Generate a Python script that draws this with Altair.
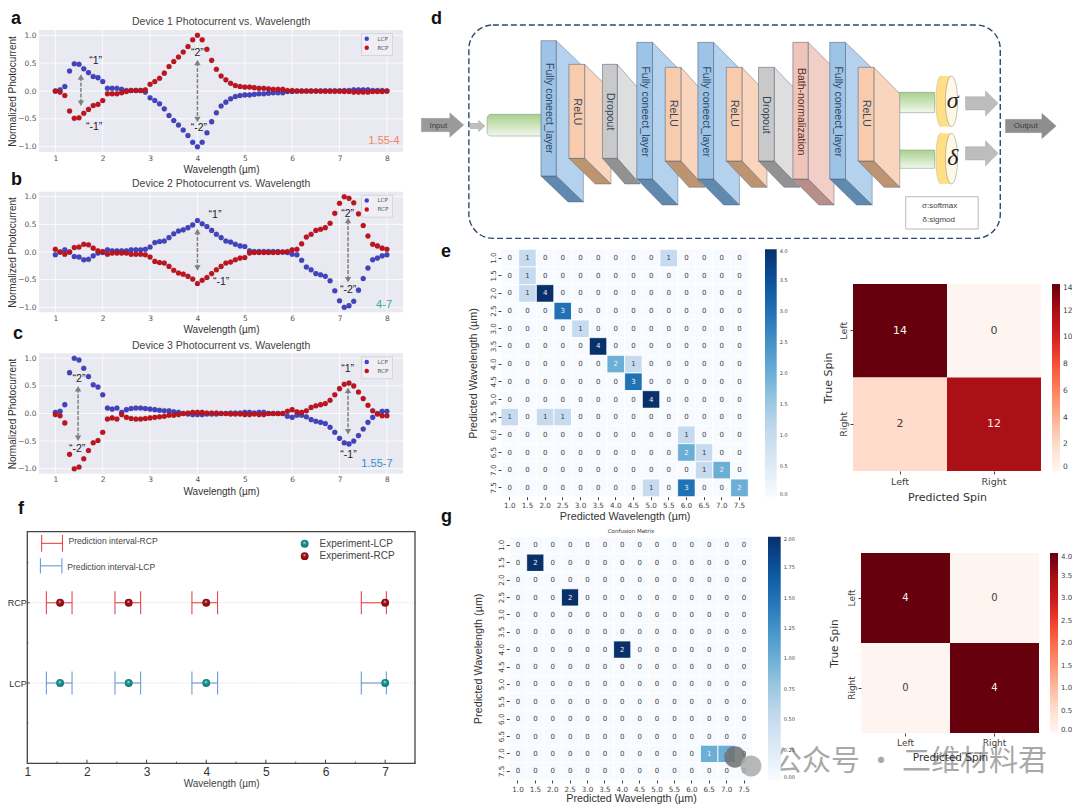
import altair as alt
import pandas as pd

W, H = 1064, 796
SANS = "Liberation Sans"
DJ = "DejaVu Sans"

def P(v):
    return v - 8

wavelengths = [round(1 + i * 0.1, 1) for i in range(71)]

a_lcp = [0.0, .02, .08, .36, .49, .48, .40, .33, .26, .24,
         .17, .05, .05, .05, .03, .01, .01, .01, .01, -.02,
         -.12, -.17, -.23, -.32, -.44, -.53, -.61, -.70, -.80, -.92,
         -1.0, -.92, -.75, -.55, -.39, -.27, -.20, -.14, -.10, -.08,
         -.07, -.07, -.06, -.05, -.05, -.04, -.03, -.03, -.03, -.01,
         -.01, 0, 0, 0, 0, 0, 0, .005, .005, .005,
         .005, .01, .01, .02, .02, .02, .02, .01, .01, .01, 0]
a_rcp = [0.0, -.02, -.08, -.36, -.49, -.48, -.40, -.33, -.26, -.24,
         -.17, -.05, -.05, -.05, -.03, -.01, .01, .01, .01, .02,
         .12, .17, .23, .32, .44, .53, .61, .70, .80, .92,
         1.0, .92, .75, .55, .39, .27, .20, .14, .10, .08,
         .07, .07, .06, .05, .05, .04, .03, .03, .03, .01,
         .01, 0, 0, 0, 0, 0, 0, -.005, -.005, -.005,
         -.005, -.01, -.01, -.02, -.02, -.02, -.02, -.01, -.01, -.01, 0]
b_lcp = [-.05, 0, .04, 0, -.08, -.09, -.14, -.13, -.07, -.02,
         -.01, .04, .02, .02, .02, .02, .04, .04, .04, .05,
         .09, .17, .19, .20, .26, .33, .38, .40, .44, .49,
         .57, .51, .46, .39, .32, .26, .20, .18, .14, .11,
         .10, .02, .01, .01, .01, .01, .01, .01, 0, -.01,
         -.04, -.05, -.15, -.27, -.32, -.39, -.41, -.44, -.52, -.70,
         -.88, -1.0, -.97, -.89, -.69, -.48, -.29, -.14, -.11, -.07, -.05]
b_rcp = [.05, 0, -.04, 0, .08, .09, .14, .13, .07, .02,
         .01, -.04, -.02, -.02, -.02, -.02, -.04, -.04, -.04, -.05,
         -.09, -.17, -.19, -.20, -.26, -.33, -.38, -.40, -.44, -.49,
         -.57, -.51, -.46, -.39, -.32, -.26, -.20, -.18, -.14, -.11,
         -.10, -.02, -.01, -.01, -.01, -.01, -.01, -.01, 0, .01,
         .04, .05, .15, .27, .32, .39, .41, .44, .52, .70,
         .88, 1.0, .97, .89, .69, .48, .29, .14, .11, .07, .05]
c_lcp = [.02, .04, .16, .74, 1.0, .97, .82, .67, .52, .48,
         .34, .10, .08, .10, .02, .07, .09, .10, .10, .09,
         .08, .07, .06, .05, .05, .03, .02, 0, -.01, -.02,
         -.02, -.02, -.01, -.01, -.01, 0, 0, .01, .01, .01,
         .02, .02, .01, .02, .02, 0, 0, 0, 0, -.05,
         -.07, -.03, -.03, -.06, -.11, -.14, -.16, -.18, -.25, -.34,
         -.45, -.53, -.55, -.50, -.40, -.28, -.16, -.07, 0, .04, .04]
c_rcp = [-.02, -.04, -.17, -.74, -1.0, -.97, -.82, -.67, -.53, -.49,
         -.34, -.10, -.08, -.10, -.02, -.07, -.09, -.10, -.10, -.09,
         -.08, -.07, -.06, -.05, -.03, -.03, -.02, 0, .01, .02,
         .02, .02, .01, .01, .01, 0, 0, -.01, -.01, -.01,
         -.02, -.02, -.01, -.02, -.02, 0, 0, 0, 0, .04,
         .07, .03, .02, .05, .11, .14, .16, .18, .24, .34,
         .45, .53, .55, .50, .39, .27, .15, .05, -.01, -.04, -.04]

ann_a = [("“1”", 1.85, .54), ("“-1”", 1.82, -.64), ("“2”", 4.0, .68), ("“-2”", 4.03, -.67)]
ann_b = [("“1”", 4.37, .66), ("“-1”", 4.5, -.55), ("“2”", 7.17, .69), ("“-2”", 7.18, -.68)]
ann_c = [("“2”", 1.5, .63), ("“-2”", 1.46, -.64), ("“1”", 7.17, .81), ("“-1”", 7.19, -.75)]
arr_a = [(1.54, .25, -.22), (4.0, .51, -.51)]
arr_b = [(4.0, .37, -.29), (7.18, .57, -.5)]
arr_c = [(1.48, .45, -.45), (7.18, .42, -.33)]

wl_labels = ["1.0", "1.5", "2.0", "2.5", "3.0", "3.5", "4.0", "4.5", "5.0", "5.5", "6.0", "6.5", "7.0", "7.5"]
e_matrix = [
    [0, 1, 0, 0, 0, 0, 0, 0, 0, 1, 0, 0, 0, 0],
    [0, 1, 0, 0, 0, 0, 0, 0, 0, 0, 0, 0, 0, 0],
    [0, 1, 4, 0, 0, 0, 0, 0, 0, 0, 0, 0, 0, 0],
    [0, 0, 0, 3, 0, 0, 0, 0, 0, 0, 0, 0, 0, 0],
    [0, 0, 0, 0, 1, 0, 0, 0, 0, 0, 0, 0, 0, 0],
    [0, 0, 0, 0, 0, 4, 0, 0, 0, 0, 0, 0, 0, 0],
    [0, 0, 0, 0, 0, 0, 2, 1, 0, 0, 0, 0, 0, 0],
    [0, 0, 0, 0, 0, 0, 0, 3, 0, 0, 0, 0, 0, 0],
    [0, 0, 0, 0, 0, 0, 0, 0, 4, 0, 0, 0, 0, 0],
    [1, 0, 1, 1, 0, 0, 0, 0, 0, 0, 0, 0, 0, 0],
    [0, 0, 0, 0, 0, 0, 0, 0, 0, 0, 1, 0, 0, 0],
    [0, 0, 0, 0, 0, 0, 0, 0, 0, 0, 2, 1, 0, 0],
    [0, 0, 0, 0, 0, 0, 0, 0, 0, 0, 0, 1, 2, 0],
    [0, 0, 0, 0, 0, 0, 0, 0, 1, 0, 3, 0, 0, 2],
]
g_matrix = [
    [0, 0, 0, 0, 0, 0, 0, 0, 0, 0, 0, 0, 0, 0],
    [0, 2, 0, 0, 0, 0, 0, 0, 0, 0, 0, 0, 0, 0],
    [0, 0, 0, 0, 0, 0, 0, 0, 0, 0, 0, 0, 0, 0],
    [0, 0, 0, 2, 0, 0, 0, 0, 0, 0, 0, 0, 0, 0],
    [0, 0, 0, 0, 0, 0, 0, 0, 0, 0, 0, 0, 0, 0],
    [0, 0, 0, 0, 0, 0, 0, 0, 0, 0, 0, 0, 0, 0],
    [0, 0, 0, 0, 0, 0, 2, 0, 0, 0, 0, 0, 0, 0],
    [0, 0, 0, 0, 0, 0, 0, 0, 0, 0, 0, 0, 0, 0],
    [0, 0, 0, 0, 0, 0, 0, 0, 0, 0, 0, 0, 0, 0],
    [0, 0, 0, 0, 0, 0, 0, 0, 0, 0, 0, 0, 0, 0],
    [0, 0, 0, 0, 0, 0, 0, 0, 0, 0, 0, 0, 0, 0],
    [0, 0, 0, 0, 0, 0, 0, 0, 0, 0, 0, 0, 0, 0],
    [0, 0, 0, 0, 0, 0, 0, 0, 0, 0, 0, 1, 1, 0],
    [0, 0, 0, 0, 0, 0, 0, 0, 0, 0, 0, 0, 0, 0],
]
spin_labels = ["Left", "Right"]
e_spin = [[14, 0], [2, 12]]
g_spin = [[4, 0], [0, 4]]

f_points = [1.55, 2.7, 4.0, 7.0]
f_low = [1.32, 2.47, 3.76, 6.6]
f_high = [1.75, 2.9, 4.19, 7.02]

BLUES = ["#f7fbff", "#deebf7", "#c6dbef", "#9ecae1", "#6baed6", "#4292c6", "#2171b5", "#08519c", "#08306b"]
REDS = ["#fff5f0", "#fee0d2", "#fcbba1", "#fc9272", "#fb6a4a", "#ef3b2c", "#cb181d", "#a50f15", "#67000d"]


def one(**kw):
    return pd.DataFrame([kw])


def photo_panel(title, lcp, rcp, left, right, top, bottom, ymax, ann, arrows, tag, tag_xy, tag_color):
    xdom = [0.655, 8.34]
    ydom = [-ymax, ymax]
    hv = [-1, -.5, 0, .5, 1]
    xs = alt.Scale(domain=xdom, range=[P(left), P(right)], nice=False, zero=False)
    ys = alt.Scale(domain=ydom, range=[P(bottom), P(top)], nice=False, zero=False)
    xa = alt.Axis(orient="bottom", title="Wavelength (µm)", values=list(range(1, 9)), grid=False, domain=False,
                  ticks=False, labelFont=DJ, labelFontSize=7.5, labelColor="#555555", titleFont=SANS, titleFontSize=10,
                  titleFontWeight="normal", titleColor="#333333", offset=P(bottom) - H, labelPadding=2, titlePadding=3,
                  labelOverlap=False, labelFlush=False)
    ya = alt.Axis(orient="left", title="Normalized Photocurrent", values=hv, grid=False, domain=False, ticks=False,
                  labelFont=DJ, labelFontSize=7.5, labelColor="#555555",
                  labelExpr="replace(format(datum.value,'.1f'),'-','−')", titleFont=SANS, titleFontSize=10,
                  titleFontWeight="normal", titleColor="#333333", offset=-P(left), labelPadding=3, titlePadding=0,
                  labelOverlap=False)
    X0 = alt.X("x:Q", scale=xs, axis=xa)
    Y0 = alt.Y("y:Q", scale=ys, axis=ya)
    bg = alt.Chart(one(x=xdom[0], x2=xdom[1], y=ydom[0], y2=ydom[1])).mark_rect(fill="#E9E9F2").encode(
        x=X0, x2="x2:Q", y=Y0, y2="y2:Q")
    vgrid = alt.Chart(pd.DataFrame({"x": list(range(1, 9)), "y": [ydom[0]] * 8, "y2": [ydom[1]] * 8})).mark_rule(
        color="white", strokeWidth=0.8).encode(x=X0, y=Y0, y2="y2:Q")
    hgrid = alt.Chart(pd.DataFrame({"y": hv, "x": [xdom[0]] * 5, "x2": [xdom[1]] * 5})).mark_rule(
        color="white", strokeWidth=0.8).encode(y=Y0, x=X0, x2="x2:Q")
    df = pd.DataFrame({
        "x": wavelengths * 2,
        "y": list(lcp) + list(rcp),
        "s": ["LCP"] * 71 + ["RCP"] * 71,
    })
    pts = alt.Chart(df).mark_point(filled=True, size=26, opacity=1, stroke="#333333", strokeWidth=0.2).encode(
        x=X0, y=Y0,
        color=alt.Color("s:N", scale=alt.Scale(domain=["LCP", "RCP"], range=["#4242C8", "#C8101C"]),
                        legend=alt.Legend(orient="none", legendX=P(right - 42), legendY=P(top + 3), title=None,
                                          fillColor="#EEEEF4", strokeColor="#D5D5DC", padding=3, labelFontSize=5.5,
                                          labelFont=DJ, labelColor="#555555", symbolSize=20, symbolType="circle",
                                          rowPadding=2, labelOffset=8, symbolOpacity=1, symbolStrokeWidth=0)),
    )
    ar = pd.DataFrame(arrows, columns=["x", "y", "y2"])
    shaft = alt.Chart(ar).mark_rule(color="#808080", strokeWidth=1.5, strokeDash=[4, 1.5]).encode(x=X0, y=Y0, y2="y2:Q")
    up = alt.Chart(ar).mark_point(filled=True, shape="triangle-up", size=40, color="#808080", opacity=1).encode(x=X0, y=Y0)
    dn = alt.Chart(ar).mark_point(filled=True, shape="triangle-down", size=40, color="#808080", opacity=1).encode(
        x=X0, y=alt.Y("y2:Q", scale=ys, axis=ya))
    tx = alt.Chart(pd.DataFrame(ann, columns=["t", "x", "y"])).mark_text(
        font=SANS, fontSize=10.5, color="#222222").encode(x=X0, y=Y0, text="t:N")
    tt = alt.Chart(one(t=title, x=4.5, y=1.23)).mark_text(font=SANS, fontSize=10.5, color="#444444").encode(
        x=X0, y=Y0, text="t:N")
    tg = alt.Chart(one(t=tag, x=tag_xy[0], y=tag_xy[1])).mark_text(font=SANS, fontSize=11, color=tag_color).encode(
        x=X0, y=Y0, text="t:N")
    return alt.layer(bg, vgrid, hgrid, pts, shaft, up, dn, tx, tt, tg)


def heatmap(xlabels, ylabels, matrix, x0, x1, y0, y1, vmax, stops, cb_x, cb_w, cb_vals, cb_fmt, cb_size,
            cell_size, tick_size, title_size, title_x, title_y, title_font, cell_stroke,
            xlab_pad, xtitle_pad, ylab_pad, ytitle_pad, tick_font):
    rows = [{"c": xl, "r": yl, "v": matrix[i][j], "t": str(matrix[i][j]), "m": vmax}
            for i, yl in enumerate(ylabels) for j, xl in enumerate(xlabels)]
    df = pd.DataFrame(rows)
    xs = alt.Scale(type="band", domain=xlabels, range=[P(x0), P(x1)], paddingInner=0, paddingOuter=0)
    ys = alt.Scale(type="band", domain=ylabels, range=[P(y0), P(y1)], paddingInner=0, paddingOuter=0)
    xa = alt.Axis(orient="bottom", title=title_x, labelAngle=0, domain=False, ticks=True, tickSize=3, tickColor="#444444",
                  labelFont=tick_font, labelFontSize=tick_size, labelColor="#444444", titleFont=title_font,
                  titleFontSize=title_size, titleFontWeight="normal", titleColor="#333333", offset=P(y1) - H,
                  labelPadding=xlab_pad, titlePadding=xtitle_pad, labelOverlap=False, grid=False)
    ya = alt.Axis(orient="left", title=title_y, labelAngle=270, labelAlign="center", labelBaseline="bottom",
                  domain=False, ticks=True, tickSize=3, tickColor="#444444", labelFont=tick_font,
                  labelFontSize=tick_size, labelColor="#444444", titleFont=title_font, titleFontSize=title_size,
                  titleFontWeight="normal", titleColor="#333333", offset=-P(x0), labelPadding=ylab_pad,
                  titlePadding=ytitle_pad, labelOverlap=False, grid=False)
    n = len(stops)
    dom = [vmax * i / (n - 1) for i in range(n)]
    rect = alt.Chart(df).mark_rect(stroke=cell_stroke, strokeWidth=0.8 if cell_stroke == "white" else 0.3).encode(
        x=alt.X("c:N", scale=xs, axis=xa),
        y=alt.Y("r:N", scale=ys, axis=ya),
        color=alt.Color("v:Q", scale=alt.Scale(domain=dom, range=stops, clamp=True), legend=alt.Legend(
            type="gradient", orient="none", legendX=P(cb_x), legendY=P(y0), title=None,
            gradientLength=y1 - y0, gradientThickness=cb_w, values=cb_vals, format=cb_fmt, labelFont=DJ,
            labelFontSize=cb_size, labelColor="#444444", padding=0, labelOffset=3, gradientStrokeWidth=0,
            labelOverlap=False)),
    )
    text = alt.Chart(df).mark_text(font=DJ, fontSize=cell_size).encode(
        x=alt.X("c:N", scale=xs, axis=xa),
        y=alt.Y("r:N", scale=ys, axis=ya),
        text="t:N",
        color=alt.condition("datum.v / datum.m >= 0.4", alt.value("#f2f2f2"), alt.value("#3f3f3f")),
    )
    return alt.layer(rect, text)


def panel_f():
    left, right, top, bottom = 27.3, 415, 531.7, 763.3
    xdom = [1, 7.5]
    ydom = [0, 2.885]
    xs = alt.Scale(domain=xdom, range=[P(left), P(right)], nice=False, zero=False)
    ys = alt.Scale(domain=ydom, range=[P(bottom), P(top)], nice=False, zero=False)
    xa = alt.Axis(orient="bottom", title="Wavelength (µm)", values=[1, 2, 3, 4, 5, 6, 7], grid=False, domain=False,
                  ticks=False, labelFont=SANS, labelFontSize=12, labelColor="#333333", titleFont=SANS, titleFontSize=10,
                  titleFontWeight="normal", titleColor="#444444", offset=P(bottom) - H, labelPadding=3, titlePadding=1,
                  labelOverlap=False, labelFlush=False)
    ya = alt.Axis(orient="left", title=None, values=[1, 2], grid=False, domain=False, ticks=False, labelFont=SANS,
                  labelFontSize=9, labelColor="#333333", labelExpr="datum.value == 1 ? 'LCP' : 'RCP'", offset=-P(left),
                  labelPadding=1, labelOverlap=False)
    X0 = alt.X("x:Q", scale=xs, axis=xa)
    Y0 = alt.Y("y:Q", scale=ys, axis=ya)
    dots = alt.Chart(pd.DataFrame({"y": [1, 2], "x": [1, 1], "x2": [7.5, 7.5]})).mark_rule(
        color="#CFCFCF", strokeWidth=0.8, strokeDash=[1, 1.5]).encode(x=X0, x2="x2:Q", y=Y0)
    xm = pd.DataFrame({"x": [2, 3, 4, 5, 6, 7], "y": [0] * 6, "y2": [0.045] * 6})
    xn = pd.DataFrame({"x": [1.5, 2.5, 3.5, 4.5, 5.5, 6.5, 7.5 - 0.001], "y": [0] * 7, "y2": [0.022] * 7})
    ym = pd.DataFrame({"y": [.5, 1.5, 2.5], "x": [1] * 3, "x2": [1.02] * 3})
    ymaj = pd.DataFrame({"y": [1, 2], "x": [1, 1], "x2": [1.04, 1.04]})
    tick_c = "#444444"
    ticks = [
        alt.Chart(xm).mark_rule(color=tick_c, strokeWidth=1).encode(x=X0, y=Y0, y2="y2:Q"),
        alt.Chart(xn).mark_rule(color=tick_c, strokeWidth=0.8).encode(x=X0, y=Y0, y2="y2:Q"),
        alt.Chart(ym).mark_rule(color=tick_c, strokeWidth=0.8).encode(x=X0, x2="x2:Q", y=Y0),
        alt.Chart(ymaj).mark_rule(color=tick_c, strokeWidth=1).encode(x=X0, x2="x2:Q", y=Y0),
    ]
    layers = [dots] + ticks
    frame = alt.Chart(one(x=1, x2=7.5, y=0, y2=2.885)).mark_rect(
        fill="transparent", stroke="#444444", strokeWidth=1.3).encode(x=X0, x2="x2:Q", y=Y0, y2="y2:Q")
    layers.append(frame)

    def interval(lows, highs, ys_, h, col, w=1.1):
        d = pd.DataFrame({"x": lows, "x2": highs, "y": ys_})
        c1 = pd.DataFrame({"x": lows, "y": [v - h for v in ys_], "y2": [v + h for v in ys_]})
        c2 = pd.DataFrame({"x": highs, "y": [v - h for v in ys_], "y2": [v + h for v in ys_]})
        return [
            alt.Chart(d).mark_rule(color=col, strokeWidth=w).encode(x=X0, x2="x2:Q", y=Y0),
            alt.Chart(c1).mark_rule(color=col, strokeWidth=w).encode(x=X0, y=Y0, y2="y2:Q"),
            alt.Chart(c2).mark_rule(color=col, strokeWidth=w).encode(x=X0, y=Y0, y2="y2:Q"),
        ]

    RED, BLUE = "#E8474C", "#6C9BD2"
    layers += interval(f_low, f_high, [2] * 4, 0.143, RED)
    layers += interval(f_low, f_high, [1] * 4, 0.143, BLUE)
    layers += interval([1.24], [1.59], [2.74], 0.104, RED)
    layers += interval([1.22], [1.58], [2.46], 0.095, BLUE)

    def grad(c0, c1):
        return {"gradient": "radial", "x1": 0.45, "y1": 0.35, "r1": 0, "x2": 0.5, "y2": 0.5, "r2": 0.6,
                "stops": [{"offset": 0, "color": "#E8F4F4"}, {"offset": 0.3, "color": c0}, {"offset": 1, "color": c1}]}

    teal = grad("#1C9A97", "#0B6E6C")
    maroon = grad("#A5121A", "#7A0A10")
    layers.append(alt.Chart(pd.DataFrame({"x": f_points + [5.65], "y": [1] * 4 + [2.735]})).mark_point(
        filled=True, size=62, fill=teal, opacity=1).encode(x=X0, y=Y0))
    layers.append(alt.Chart(pd.DataFrame({"x": f_points + [5.65], "y": [2] * 4 + [2.58]})).mark_point(
        filled=True, size=62, fill=maroon, opacity=1).encode(x=X0, y=Y0))
    small = pd.DataFrame({"t": ["Prediction interval-RCP", "Prediction interval-LCP"], "x": [1.69, 1.67], "y": [2.77, 2.45]})
    big = pd.DataFrame({"t": ["Experiment-LCP", "Experiment-RCP"], "x": [5.9, 5.9], "y": [2.735, 2.58]})
    layers.append(alt.Chart(small).mark_text(font=SANS, fontSize=8.6, align="left", color="#444444").encode(x=X0, y=Y0, text="t:N"))
    layers.append(alt.Chart(big).mark_text(font=SANS, fontSize=10, align="left", color="#444444").encode(x=X0, y=Y0, text="t:N"))
    return alt.layer(*layers)


def panel_d():
    xs = alt.Scale(domain=[0, 1568], range=[P(415), P(1080)], nice=False, zero=False)
    ys = alt.Scale(domain=[0, 735], range=[P(0), P(245)], nice=False, zero=False)
    X0 = alt.X("x:Q", scale=xs, axis=None, title=None)
    Y0 = alt.Y("y:Q", scale=ys, axis=None, title=None)
    EDGE = "#46586E"
    layers = []

    def area_arrow(x0, xn, xt, m, s, h, col):
        d = pd.DataFrame({"x": [x0, xn, xn, xt], "y": [m - s, m - s, m - h, m], "y2": [m + s, m + s, m + h, m]})
        return alt.Chart(d).mark_area(fill=col, orient="vertical", stroke="#8c8c8c", strokeWidth=0.3).encode(x=X0, y=Y0, y2="y2:Q")

    layers.append(area_arrow(15, 82, 115, 375, 20, 37, "#9A9A9A"))
    layers.append(area_arrow(130, 150, 165, 378, 8, 17, "#BFBFBF"))
    layers.append(area_arrow(1298, 1345, 1375, 310, 20, 38, "#BDBDBD"))
    layers.append(area_arrow(1298, 1345, 1375, 460, 20, 38, "#BDBDBD"))
    layers.append(area_arrow(1392, 1478, 1512, 378, 20, 38, "#8E8E8E"))

    green = {"gradient": "linear", "x1": 0, "x2": 0, "y1": 0, "y2": 1,
             "stops": [{"offset": 0, "color": "#A9D18E"}, {"offset": 0.55, "color": "#CFE6C0"}, {"offset": 1, "color": "#F2F7EE"}]}
    tubes = pd.DataFrame({"x": [170, 1115, 1115], "x2": [300, 1225, 1225], "y": [343, 277, 450], "y2": [408, 338, 505]})
    layers.append(alt.Chart(tubes).mark_rect(fill=green, stroke="#7f8f7a", strokeWidth=0.5, cornerRadiusTopLeft=4,
                                             cornerRadiusBottomLeft=4).encode(x=X0, x2="x2:Q", y=Y0, y2="y2:Q"))

    blues = ("#9DC3E6", "#B4D2EE", "#5F89AE")
    oranges = ("#F8CBAD", "#F9D5BE", "#BC9470")
    greys = ("#C9C9C9", "#DEDEDE", "#929292")
    pinks = ("#EFC5BA", "#F2CFC6", "#B88E88")
    blocks = [
        (297, 333, 122, 528, 397, 78, blues, "Fully coneect_layer", 325),
        (363, 400, 193, 475, 462, 77, oranges, "ReLU", 336),
        (442, 477, 193, 475, 530, 77, greys, "Dropout", 335),
        (523, 560, 127, 537, 620, 78, blues, "Fully coneect_layer", 335),
        (590, 627, 202, 483, 683, 79, oranges, "ReLU", 340),
        (667, 704, 127, 537, 765, 78, blues, "Fully coneect_layer", 335),
        (734, 771, 202, 483, 830, 79, oranges, "ReLU", 340),
        (810, 847, 202, 483, 907, 79, greys, "Dropout", 345),
        (891, 927, 127, 537, 988, 78, pinks, "Bath-normalization", 335),
        (978, 1015, 127, 537, 1078, 78, blues, "Fully coneect_layer", 335),
        (1045, 1082, 202, 483, 1143, 79, oranges, "ReLU", 340),
    ]
    for x0, x1, y0, y1, xr, dy, cols, label, ty in blocks:
        dx = xr - x1
        side = pd.DataFrame({"x": [x1, xr], "y": [y0, y0 + dy], "y2": [y1, y1 + dy]})
        layers.append(alt.Chart(side).mark_area(fill=cols[1], orient="vertical", stroke=EDGE, strokeWidth=0.4).encode(x=X0, y=Y0, y2="y2:Q"))
        bot = pd.DataFrame({"y": [y1, y1 + dy], "x": [x0, x0 + dx], "x2": [x1, x1 + dx]})
        layers.append(alt.Chart(bot).mark_area(fill=cols[2], orient="horizontal", stroke=EDGE, strokeWidth=0.4).encode(x=X0, x2="x2:Q", y=Y0))
        front = one(x=x0, x2=x1, y=y0, y2=y1)
        layers.append(alt.Chart(front).mark_rect(fill=cols[0], stroke=EDGE, strokeWidth=0.5).encode(x=X0, x2="x2:Q", y=Y0, y2="y2:Q"))
        col = "#5A2E26" if cols is pinks else "#33465C"
        layers.append(alt.Chart(one(t=label, x=(x0 + x1) / 2, y=ty)).mark_text(font=SANS, fontSize=10.5, angle=90, color=col).encode(x=X0, y=Y0, text="t:N"))

    ell_y = "M0,-1 A0.2,1 0 1,1 0,1 A0.2,1 0 1,1 0,-1 Z"
    ell_c = "M0,-1 A0.24,1 0 1,1 0,1 A0.24,1 0 1,1 0,-1 Z"
    for cy, sym in [(304, "σ"), (476, "δ")]:
        layers.append(alt.Chart(one(x=1240, y=cy)).mark_point(shape=ell_y, filled=True, size=2560, fill="#FFDF85", stroke="#8a8a6a", strokeWidth=0.3, opacity=1).encode(x=X0, y=Y0))
        layers.append(alt.Chart(one(x=1240, x2=1265, y=cy - 76, y2=cy + 76)).mark_rect(fill="#FFDF85").encode(x=X0, x2="x2:Q", y=Y0, y2="y2:Q"))
        layers.append(alt.Chart(one(x=1265, y=cy)).mark_point(shape=ell_c, filled=True, size=2560, fill="#FFF8E6", stroke="#6a6a5a", strokeWidth=0.4, opacity=1).encode(x=X0, y=Y0))
        layers.append(alt.Chart(one(t=sym, x=1268, y=cy - 2)).mark_text(font="Liberation Serif", fontSize=24, fontStyle="italic", color="#222222").encode(x=X0, y=Y0, text="t:N"))

    box = one(x=127, x2=1380, y=75, y2=715)
    layers.append(alt.Chart(box).mark_rect(fill="transparent", stroke="#2F4A6E", strokeWidth=1.4, strokeDash=[6, 3], cornerRadius=24).encode(x=X0, x2="x2:Q", y=Y0, y2="y2:Q"))
    key = one(x=1157, x2=1328, y=590, y2=687)
    layers.append(alt.Chart(key).mark_rect(fill="white", stroke="#A8A8A8", strokeWidth=0.8).encode(x=X0, x2="x2:Q", y=Y0, y2="y2:Q"))
    keytxt = pd.DataFrame({"t": ["σ:softmax", "δ:sigmod"], "x": [1237, 1235], "y": [617, 660]})
    layers.append(alt.Chart(keytxt).mark_text(font=SANS, fontSize=8, color="#444444").encode(x=X0, y=Y0, text="t:N"))
    io = pd.DataFrame({"t": ["Input", "Output"], "x": [55, 1440], "y": [378, 378]})
    layers.append(alt.Chart(io).mark_text(font=SANS, fontSize=8, color="#3d3d3d").encode(x=X0, y=Y0, text="t:N"))
    return alt.layer(*layers)


def overlays():
    letters = pd.DataFrame({
        "t": ["a", "b", "c", "d", "e", "f", "g"],
        "px": [P(11), P(11), P(13), P(431), P(441), P(18), P(441)],
        "py": [P(24), P(185), P(339), P(24), P(257), P(514), P(522)],
    })
    lt = alt.Chart(letters).mark_text(font=SANS, fontSize=18, fontWeight="bold", align="left", baseline="alphabetic", color="#111111").encode(
        x=alt.X("px:Q", scale=None), y=alt.Y("py:Q", scale=None), text="t:N")
    cm = alt.Chart(one(t="Confusion Matrix", px=P(631), py=P(531))).mark_text(font=DJ, fontSize=5.5, color="#333333").encode(
        x=alt.X("px:Q", scale=None), y=alt.Y("py:Q", scale=None), text="t:N")
    icon = pd.DataFrame({"px": [P(735), P(751)], "py": [P(757), P(766)], "c": ["#6e6e6e", "#aaaaaa"], "s": [460, 440]})
    ic = alt.Chart(icon).mark_circle(opacity=0.85).encode(
        x=alt.X("px:Q", scale=None), y=alt.Y("py:Q", scale=None),
        color=alt.Color("c:N", scale=None), size=alt.Size("s:Q", scale=None))
    wm = alt.Chart(one(t="公众号 · 二维材料君", px=P(773), py=P(762))).mark_text(
        font="Noto Sans CJK SC", fontSize=29, align="left", color="#8c8c8c", opacity=0.75).encode(
        x=alt.X("px:Q", scale=None), y=alt.Y("py:Q", scale=None), text="t:N")
    return alt.layer(cm, ic, wm, lt)


panels = [
    photo_panel("Device 1 Photocurrent vs. Wavelength", a_lcp, a_rcp, 39, 403, 30, 152, 1.095, ann_a, arr_a,
                "1.55-4", (7.94, -.89), "#F0845A"),
    photo_panel("Device 2 Photocurrent vs. Wavelength", b_lcp, b_rcp, 39, 403, 191.7, 312.3, 1.09, ann_b, arr_b,
                "4-7", (7.94, -.96), "#3AA99A"),
    photo_panel("Device 3 Photocurrent vs. Wavelength", c_lcp, c_rcp, 39, 403, 353.3, 473.7, 1.09, ann_c, arr_c,
                "1.55-7", (7.79, -.92), "#3B8FC8"),
    panel_f(),
    panel_d(),
    heatmap(wl_labels, wl_labels, e_matrix, 501, 748.3, 249.3, 496.7, 4, BLUES, 765, 11.7,
            [0, .5, 1, 1.5, 2, 2.5, 3, 3.5, 4], ".1f", 5, 7, 7.2, 10.8,
            "Predicted Wavelength (µm)", "Predicted Wavelength (µm)", SANS, "white", 2, 2, 1, 11, DJ),
    heatmap(wl_labels, wl_labels, g_matrix, 509.3, 752.7, 536.7, 780, 2, BLUES, 768, 12.7,
            [0, .25, .5, .75, 1, 1.25, 1.5, 1.75, 2], ".2f", 5, 7, 7.2, 10.8,
            "Predicted Wavelength (µm)", "Predicted Wavelength (µm)", SANS, "white", 2, 0, 1, 14, DJ),
    heatmap(spin_labels, spin_labels, e_spin, 853, 1041, 284, 471, 14, REDS, 1052, 8,
            [0, 2, 4, 6, 8, 10, 12, 14], "d", 7.5, 11, 9.5, 11,
            "Predicted Spin", "True Spin", DJ, "#ffffff00", 2, 6, 2, 5, DJ),
    heatmap(spin_labels, spin_labels, g_spin, 861, 1039, 553, 733, 4, REDS, 1050, 8,
            [0, .5, 1, 1.5, 2, 2.5, 3, 3.5, 4], ".1f", 7, 10, 9, 10.5,
            "Predicted Spin", "True Spin", DJ, "#ffffff00", 2, 5, 2, 8, DJ),
    overlays(),
]

chart = (
    alt.layer(*panels)
    .resolve_scale(x="independent", y="independent", color="independent")
    .resolve_axis(x="independent", y="independent")
    .properties(width=W, height=H, padding=0, background="white", autosize=alt.AutoSizeParams(type="none"))
    .configure_view(stroke=None)
)
chart.save("out.html", embed_options={"renderer": "svg", "actions": False})
